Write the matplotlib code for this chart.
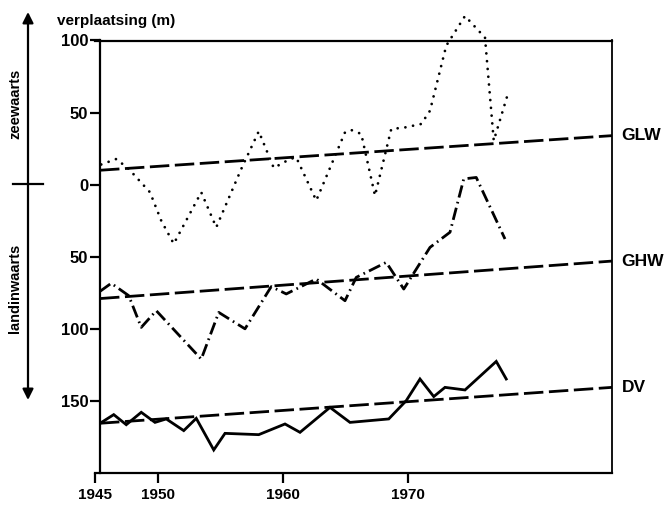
import numpy as np
import matplotlib
matplotlib.use("Agg")
import matplotlib.pyplot as plt
from matplotlib.lines import Line2D
from matplotlib.ticker import FuncFormatter

plt.rcParams['font.family'] = ['Liberation Sans', 'DejaVu Sans']
plt.rcParams['font.weight'] = 'bold'

# GLW (dotted)
glw_yr = [1945.5, 1946.7, 1947.7, 1949.4, 1950.3, 1951.3, 1953.5, 1954.7, 1956.7,
          1958.1, 1959.3, 1960.6, 1961.1, 1962.7, 1965.0, 1965.5, 1966.3, 1967.4,
          1968.7, 1969.8, 1971.1, 1971.8, 1973.1, 1974.6, 1976.2, 1976.9, 1978.1]
glw_val = [14, 17.8, 10.9, -5.3, -25, -41, -5.3, -29.6, 10.9,
           37, 11.6, 17.8, 18.9, -11, 36.3, 37.9, 35.2, -7.6,
           38.6, 39.7, 42.1, 51.3, 96.4, 117, 102, 30.5, 65]

# GHW (dash-dot)
ghw_yr = [1945.4, 1946.3, 1947.7, 1948.7, 1949.9, 1953.5, 1954.9, 1957.0, 1959.1,
          1960.3, 1962.7, 1965.0, 1965.9, 1968.3, 1969.7, 1971.8, 1973.4, 1974.5,
          1975.5, 1977.8]
ghw_val = [-74, -68.4, -77, -99, -87.4, -121, -88.6, -100, -70.7,
           -75.8, -65.4, -80.5, -64.3, -53.9, -72.4, -43.5, -33, 4,
           5, -37.7]

# DV (solid)
dv_yr = [1945.5, 1946.5, 1947.5, 1948.7, 1949.8, 1950.7, 1952.1, 1953.1, 1954.5,
         1955.4, 1958.1, 1960.2, 1961.4, 1963.8, 1965.4, 1968.5, 1969.9, 1971.0,
         1972.1, 1973.0, 1974.6, 1977.1, 1977.9]
dv_val = [-165, -159.5, -166.5, -157.9, -164.9, -162.5, -170.6, -162.1, -184,
          -172.5, -173.4, -166, -171.8, -154.5, -164.9, -162.5, -149.8, -134.8,
          -147, -140.6, -142.4, -122.6, -134.8]

# trend lines (start / end)
trend_yr = [1945.4, 1986.36]
glw_trend = [10, 34]
ghw_trend = [-79, -53]
dv_trend = [-165.5, -140.6]

xticks = [1945, 1950, 1960, 1970]
yticks = [100, 50, 0, -50, -100, -150]

fig = plt.figure(figsize=(6.64, 5.07), dpi=100)
ax = fig.add_axes([95 / 664, 1 - 473 / 507, (612 - 95) / 664, (473 - 40.5) / 507])

ax.plot(glw_yr, glw_val, color='black', lw=2.0, linestyle=(0, (0.01, 2.8)),
        dash_capstyle='round', clip_on=False)
ax.plot(ghw_yr, ghw_val, color='black', lw=2.0, linestyle=(0, (4.5, 1.6, 0.6, 1.6)))
ax.plot(dv_yr, dv_val, color='black', lw=2.0, solid_joinstyle='miter')

for tr in (glw_trend, ghw_trend, dv_trend):
    ax.plot(trend_yr, tr, color='black', lw=2.0, linestyle=(0, (7, 2)), clip_on=False)

for lab, tr in (('GLW', glw_trend), ('GHW', ghw_trend), ('DV', dv_trend)):
    ax.annotate(lab, xy=(trend_yr[1], tr[1]), xytext=(7, 0), textcoords='offset points',
                va='center', ha='left', fontsize=12.5, fontweight='bold')

ax.set_xlim(1945, 1986.36)
ax.set_ylim(-200, 100)
ax.spines['left'].set_position(('data', 1945.4))
for s in ax.spines.values():
    s.set_linewidth(1.6)
ax.spines['right'].set_linewidth(1.3)

ax.set_xticks(xticks)
ax.set_yticks(yticks)
ax.yaxis.set_major_formatter(FuncFormatter(lambda v, p: f"{abs(v):.0f}"))
ax.tick_params(axis='y', length=7, width=1.6, pad=1.5, labelsize=12)
ax.tick_params(axis='x', length=7, width=1.6, pad=4, labelsize=11)

fig.text(57 / 664, 1 - 21 / 507, 'verplaatsing (m)', fontsize=11, fontweight='bold',
         va='center', ha='left')

# seaward / landward arrow on the left
ax.annotate('', xy=(28 / 664, 1 - 12 / 507), xytext=(28 / 664, 1 - 400 / 507),
            xycoords='figure fraction', textcoords='figure fraction',
            arrowprops=dict(arrowstyle='<|-|>', lw=1.6, mutation_scale=16, color='black',
                            shrinkA=0, shrinkB=0))
fig.add_artist(Line2D([13 / 664, 43 / 664], [1 - 184 / 507, 1 - 184 / 507],
                      color='black', lw=1.6, transform=fig.transFigure))
fig.text(15 / 664, 1 - 104 / 507, 'zeewaarts', rotation=90, fontsize=10.5,
         fontweight='bold', va='center', ha='center')
fig.text(15 / 664, 1 - 288 / 507, 'landinwaarts', rotation=90, fontsize=10.5,
         fontweight='bold', va='center', ha='center')

fig.savefig('out.png', dpi=100)
